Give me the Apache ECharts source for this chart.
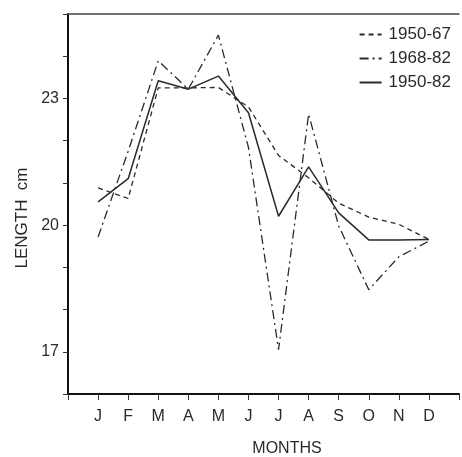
<!DOCTYPE html>
<html>
<head>
<meta charset="utf-8">
<script src="https://cdn.jsdelivr.net/npm/echarts@6/dist/echarts.min.js"></script>
<style>html,body{margin:0;padding:0;background:#fff}#c{width:462px;height:457px}</style>
</head>
<body>
<div id="c"></div>
<script>
var months = ['J','F','M','A','M','J','J','A','S','O','N','D'];
var yTickLabels = [17, 20, 23];
var s1950_67 = [20.88, 20.63, 23.25, 23.25, 23.26, 22.8, 21.65, 21.12, 20.52, 20.19, 20.02, 19.66];
var s1968_82 = [19.72, 21.75, 23.89, 23.22, 24.5, 21.84, 17.05, 22.63, 19.98, 18.47, 19.25, 19.62];
var s1950_82 = [20.55, 21.1, 23.42, 23.22, 23.53, 22.66, 20.21, 21.38, 20.29, 19.65, 19.65, 19.66];

function pts(arr){ return arr.map(function(v,i){ return [i+1, v]; }); }
var FONT = 'Liberation Sans';
var chart = echarts.init(document.getElementById('c'), null, {renderer:'canvas'});
var lineCol = '#2a2a2a';
chart.setOption({
  animation:false,
  backgroundColor:'#fff',
  textStyle:{fontFamily:FONT},
  grid:{left:68, right:0, top:14, bottom:63},
  legend:{
    orient:'vertical', right:6, top:21, itemWidth:22, itemHeight:12, itemGap:7,
    itemStyle:{opacity:0},
    textStyle:{fontSize:17, color:'#2a2a2a', fontFamily:FONT, padding:[0,0,0,2]},
    data:['1950-67','1968-82','1950-82']
  },
  title:{text:'MONTHS', left:282, top:436, textAlign:'center',
    textStyle:{fontSize:16, fontWeight:'normal', color:'#2a2a2a', fontFamily:FONT}},
  graphic:[{type:'text', x:14, y:218, rotation:Math.PI/2,
    style:{text:'LENGTH  cm', font:'17px "Liberation Sans"', fill:'#2a2a2a', textAlign:'center', textVerticalAlign:'top'}}],
  xAxis:[{
    type:'value', min:0, max:13, interval:1,
    splitLine:{show:false},
    axisLine:{show:true, lineStyle:{color:'#111', width:2}},
    axisTick:{show:true, length:6, lineStyle:{color:'#333', width:1}},
    axisLabel:{margin:15, fontSize:16, color:'#2a2a2a', fontFamily:FONT,
      formatter:function(v){ return (v>=1 && v<=12) ? months[v-1] : ''; }}
  },{
    type:'value', position:'top', min:0, max:13,
    splitLine:{show:false}, axisTick:{show:false}, axisLabel:{show:false},
    axisLine:{show:true, lineStyle:{color:'#444', width:1.5}}
  }],
  yAxis:{
    type:'value', min:16, max:25, interval:1,
    splitLine:{show:false},
    axisLine:{show:true, lineStyle:{color:'#111', width:2}},
    axisTick:{show:true, length:5, lineStyle:{color:'#333', width:1}},
    axisLabel:{margin:9, fontSize:16, color:'#2a2a2a', fontFamily:FONT,
      formatter:function(v){ return yTickLabels.indexOf(v) >= 0 ? String(v) : ''; }}
  },
  series:[
    {name:'1950-67', type:'line', data:pts(s1950_67), symbol:'none', itemStyle:{color:lineCol},
     lineStyle:{color:lineCol, width:1.3, type:[5,4]}},
    {name:'1968-82', type:'line', data:pts(s1968_82), symbol:'none', itemStyle:{color:lineCol},
     lineStyle:{color:lineCol, width:1.3, type:[9,4,2,4]}},
    {name:'1950-82', type:'line', data:pts(s1950_82), symbol:'none', itemStyle:{color:lineCol},
     lineStyle:{color:lineCol, width:1.5, type:'solid'}}
  ]
});
</script>
</body>
</html>
